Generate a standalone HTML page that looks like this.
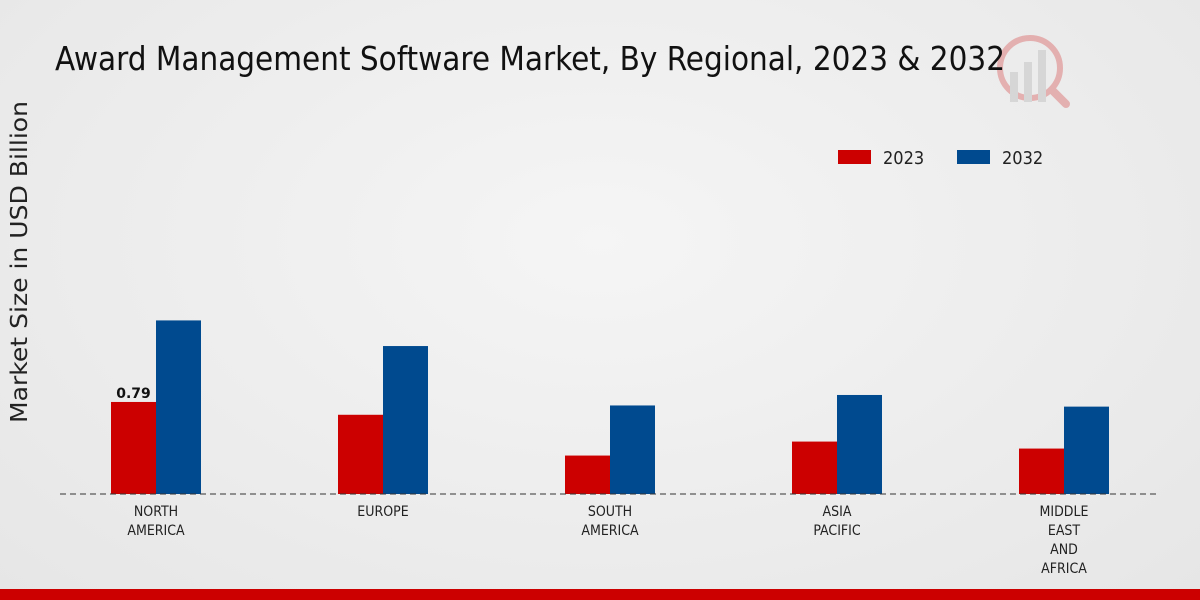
<!DOCTYPE html>
<html><head><meta charset="utf-8"><style>
body{margin:0;width:1200px;height:600px;overflow:hidden;font-family:"DejaVu Sans","Liberation Sans",sans-serif;}
#bg{position:absolute;left:0;top:0;width:1200px;height:600px;background:radial-gradient(ellipse at 50% 40%,#f5f5f5 0%,#e6e6e6 100%);}
</style></head><body>
<div id="bg"></div>
<svg id="chart" width="1200" height="600" style="position:absolute;left:0;top:0">
<g opacity="0.25">
<circle cx="1030" cy="68" r="30" fill="none" stroke="#cc0000" stroke-width="6"/>
<line x1="1052" y1="90" x2="1066" y2="104" stroke="#cc0000" stroke-width="8" stroke-linecap="round"/>
<rect x="1010" y="72" width="8" height="30" fill="#999"/>
<rect x="1024" y="62" width="8" height="40" fill="#999"/>
<rect x="1038" y="50" width="8" height="52" fill="#999"/>
</g>
<text x="55" y="70" font-size="33" fill="#111" font-family="DejaVu Sans Condensed, DejaVu Sans, sans-serif" textLength="950" lengthAdjust="spacingAndGlyphs">Award Management Software Market, By Regional, 2023 &amp; 2032</text>
<text transform="translate(27,262) rotate(-90)" text-anchor="middle" font-size="23" fill="#222" textLength="322" lengthAdjust="spacingAndGlyphs">Market Size in USD Billion</text>
<g>
<rect x="838" y="150" width="33" height="14" fill="#cc0000"/>
<text x="883" y="164" font-size="18" fill="#222" font-family="DejaVu Sans Condensed, DejaVu Sans, sans-serif">2023</text>
<rect x="957" y="150" width="33" height="14" fill="#004a8f"/>
<text x="1002" y="164" font-size="18" fill="#222" font-family="DejaVu Sans Condensed, DejaVu Sans, sans-serif">2032</text>
</g>
<g id="bars"></g>
<line x1="60" y1="494" x2="1160" y2="494" stroke="#333" stroke-dasharray="6,4" stroke-width="1"/>
<g id="labels"></g>
<rect x="0" y="589" width="1200" height="11" fill="#cc0000"/>
</svg>
<script>
const categories=[["NORTH","AMERICA"],["EUROPE"],["SOUTH","AMERICA"],["ASIA","PACIFIC"],["MIDDLE","EAST","AND","AFRICA"]];
const values2023=[0.79,0.68,0.33,0.45,0.39];
const values2032=[1.49,1.27,0.76,0.85,0.75];
const ns="http://www.w3.org/2000/svg";
const baseY=494, scale=116.5, x0=156, step=227, bw=45;
function yPos(v){return baseY-v*scale;}
function xPos(i){return x0+i*step;}
const bars=document.getElementById('bars'), labels=document.getElementById('labels');
categories.forEach((c,i)=>{
  const cx=xPos(i);
  [[values2023[i],cx-bw,'#cc0000','2023'],[values2032[i],cx,'#004a8f','2032']].forEach(([v,x,col,s])=>{
    const r=document.createElementNS(ns,'rect');
    r.setAttribute('x',x);r.setAttribute('y',yPos(v));r.setAttribute('width',bw);r.setAttribute('height',baseY-yPos(v));r.setAttribute('fill',col);
    
    
    bars.appendChild(r);
  });
  c.forEach((line,j)=>{
    const t=document.createElementNS(ns,'text');
    t.setAttribute('x',cx);t.setAttribute('y',516+j*19);t.setAttribute('text-anchor','middle');t.setAttribute('font-size','14');t.setAttribute('fill','#222');
    t.setAttribute('font-family','DejaVu Sans Condensed, DejaVu Sans, sans-serif');
    t.textContent=line;
    
    
    labels.appendChild(t);
  });
});
const vl=document.createElementNS(ns,'text');
vl.setAttribute('x',xPos(0)-bw/2);vl.setAttribute('y',yPos(values2023[0])-4);vl.setAttribute('text-anchor','middle');vl.setAttribute('font-size','14');vl.setAttribute('font-weight','bold');vl.setAttribute('fill','#111');
vl.textContent=values2023[0].toFixed(2);


labels.appendChild(vl);
</script>
</body></html>
